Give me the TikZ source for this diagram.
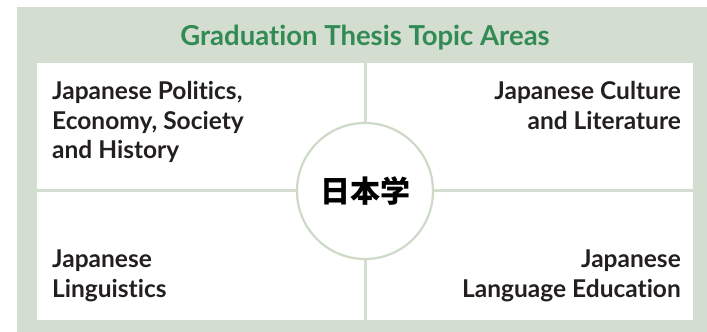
\documentclass[tikz,border=0pt]{standalone}
\usepackage{fontspec}
\setmainfont{Lato}[Ligatures=NoCommon]
\newfontfamily\jpfont{Noto Sans CJK JP}
\usepackage{color}
\definecolor{mysage}{RGB}{212,222,208}
\definecolor{myring}{RGB}{205,218,200}
\definecolor{mygreen}{RGB}{50,138,84}
\definecolor{myink}{RGB}{35,31,32}
\usepackage{tikz}
\usetikzlibrary{positioning}
\tikzstyle{panel}=[fill=white,inner sep=0pt,minimum width=326.5pt]
\tikzstyle{topic}=[inner sep=0pt,text=myink,font=\bfseries\fontsize{24.5}{29.5}\selectfont]
\tikzstyle{hub}=[draw=myring,line width=2.2pt,fill=white,circle,minimum size=136pt,inner sep=0pt]

\begin{document}
\begin{tikzpicture}[x=1pt,y=-1pt]
\useasboundingbox (0,0) rectangle (707,332);
\fill[mysage] (17,7) rectangle (707,332);
\draw (365,45) node [anchor=base,inner sep=0pt,text=mygreen,font=\bfseries\fontsize{27.5}{30}\selectfont] (title) {Graduation Thesis Topic Areas};
\draw (200.25,126) node [panel,minimum height=126pt] (pol) {};
\draw (529.75,126) node [panel,minimum height=126pt] (cul) {};
\draw (200.25,256) node [panel,minimum height=128pt] (lin) {};
\draw (529.75,256) node [panel,minimum height=128pt] (edu) {};
\draw (52,81.5) node [topic,anchor=north west,align=left] (polt) {Japanese Politics,\\Economy, Society\\and History};
\draw (681,81.5) node [topic,anchor=north east,align=right] (cult) {Japanese Culture\\and Literature};
\draw (52,250) node [topic,anchor=north west,align=left] (lint) {Japanese\\Linguistics};
\draw (681,250) node [topic,anchor=north east,align=right] (edut) {Japanese\\Language Education};
\draw (365,191) node [hub] (core) {\jpfont\bfseries\fontsize{30}{34}\selectfont 日本学};
\end{tikzpicture}
\end{document}
